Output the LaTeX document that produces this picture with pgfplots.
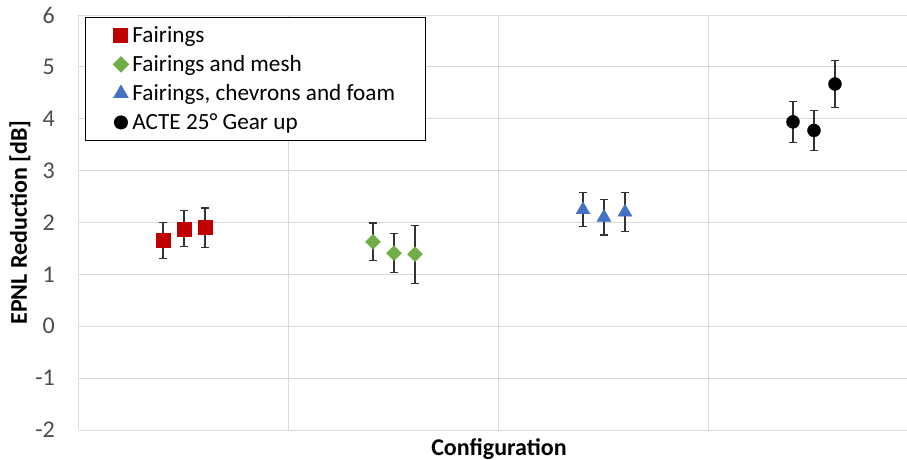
\documentclass[border=0pt]{standalone}
\usepackage{pgfplots}
\usepackage{pgfplotstable}
\pgfplotsset{compat=1.18}
\usepackage{fontspec}
\setmainfont{Carlito}

\definecolor{cred}{HTML}{C00000}
\definecolor{cgreen}{HTML}{70AD47}
\definecolor{cblue}{HTML}{4472C4}
\definecolor{cgrid}{HTML}{D9D9D9}

% x  y  err
\pgfplotstableread{
x   y     e
0.4 1.655 0.345
0.5 1.880 0.345
0.6 1.900 0.380
}\fairings
\pgfplotstableread{
x   y     e
1.4 1.625 0.365
1.5 1.410 0.380
1.6 1.390 0.560
}\mesh
\pgfplotstableread{
x   y     e
2.4 2.245 0.325
2.5 2.100 0.340
2.6 2.200 0.370
}\chevrons
\pgfplotstableread{
x   y     e
3.4 3.940 0.390
3.5 3.775 0.385
3.6 4.670 0.460
}\acte

\pgfplotsset{
    errs/.style={forget plot, only marks, mark=none,
        error bars/y dir=both, error bars/y explicit,
        error bars/error bar style={black!80, line width=1.1pt},
        error bars/error mark options={rotate=90, black!80, mark size=4pt, line width=1.1pt}},
}

\begin{document}
\begin{tikzpicture}
\begin{axis}[
    scale only axis, width=828pt, height=415pt,
    xmin=0, xmax=3.943, ymin=-2, ymax=6,
    xtick={0,1,2,3}, xticklabels={},
    ytick={-2,-1,0,1,2,3,4,5,6},
    grid=major, major grid style={cgrid, line width=1pt},
    axis line style={draw=none},
    tick style={draw=none},
    tick label style={font=\fontsize{24}{28}\selectfont, text=black!70},
    yticklabel style={inner sep=0pt, xshift=-24pt},
    /pgf/number format/assume math mode=true,
    ylabel={EPNL Reduction [dB]},
    every axis y label/.style={at={(rel axis cs:0,0.5)}, xshift=-59pt, rotate=90, anchor=center,
        font=\bfseries\fontsize{24}{28}\selectfont},
    xlabel={Configuration},
    every axis x label/.style={at={(axis cs:2,-2)}, yshift=-25pt, anchor=base,
        font=\bfseries\fontsize{24}{28}\selectfont},
    legend style={at={(rel axis cs:0.0072,0.995)}, anchor=north west, draw=black, line width=1pt,
        font=\fontsize{23.2}{27}\selectfont, inner xsep=28pt, inner ysep=7pt, row sep=7.5pt},
    legend cell align=left,
]
\coordinate (sw) at (rel axis cs:0,0);
\addplot[errs] table[x=x, y=y, y error=e] {\fairings};
\addplot[errs] table[x=x, y=y, y error=e] {\mesh};
\addplot[errs] table[x=x, y=y, y error=e] {\chevrons};
\addplot[errs] table[x=x, y=y, y error=e] {\acte};

\addplot[only marks, mark=square*, mark size=7pt, color=cred] table[x=x, y=y] {\fairings};
\addlegendentry{\hspace{2pt}Fairings}
\addplot[only marks, mark=square*, mark size=5.3pt, mark options={rotate=45}, color=cgreen] table[x=x, y=y] {\mesh};
\addlegendentry{\hspace{2pt}Fairings and mesh}
\addplot[only marks, mark=triangle*, mark size=8pt, color=cblue] table[x=x, y=y] {\chevrons};
\addlegendentry{\hspace{2pt}Fairings, chevrons and foam\hspace{-6pt}}
\addplot[only marks, mark=*, mark size=6.5pt, color=black] table[x=x, y=y] {\acte};
\addlegendentry{\hspace{2pt}ACTE 25° Gear up}
\end{axis}
\pgfresetboundingbox
\path (sw) ++(-79pt,-30pt) rectangle ++(907pt,460pt);
\end{tikzpicture}
\end{document}
